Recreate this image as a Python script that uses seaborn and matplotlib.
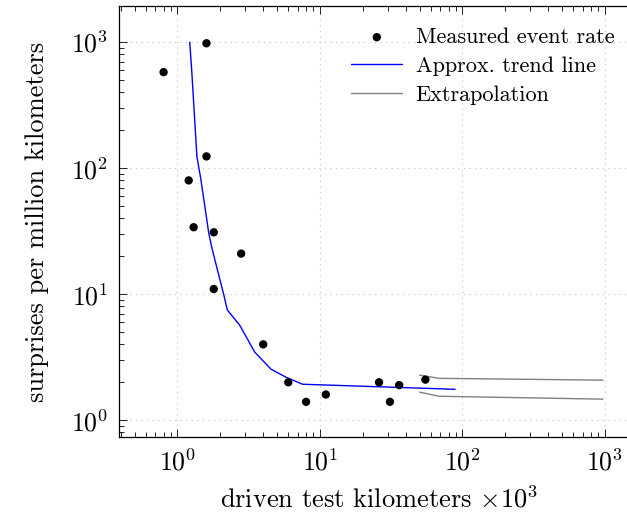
import numpy as np
import matplotlib
matplotlib.use("Agg")
import matplotlib.pyplot as plt
import seaborn as sns
import pandas as pd
from matplotlib.ticker import LogLocator, NullFormatter

sns.set_style("ticks")
plt.rcParams["font.family"] = "serif"
plt.rcParams["font.serif"] = ["cmr10", "DejaVu Serif"]
plt.rcParams["mathtext.fontset"] = "cm"
plt.rcParams["axes.formatter.use_mathtext"] = True
plt.rcParams["axes.edgecolor"] = "black"
plt.rcParams["xtick.color"] = "black"
plt.rcParams["ytick.color"] = "black"
plt.rcParams["text.color"] = "black"
plt.rcParams["axes.labelcolor"] = "black"

# measured points (x in 10^3 km, y in surprises per million km)
meas_x = [0.8, 1.6, 1.6, 1.2, 1.3, 1.8, 1.8, 2.8, 4.0, 6.0, 8.0, 11, 26, 31, 36, 55]
meas_y = [578, 980, 124, 80, 34, 31, 11, 21, 4.0, 2.0, 1.4, 1.6, 2.0, 1.4, 1.9, 2.1]

# approximate trend line
trend_x = [1.22, 1.26, 1.37, 1.46, 1.66, 1.75, 2.12, 2.24, 2.73, 3.49, 4.54, 5.8, 7.56, 89]
trend_y = [1000, 600, 124, 82, 30.5, 23, 9.8, 7.5, 5.7, 3.47, 2.54, 2.19, 1.93, 1.76]

# extrapolation bounds
extra_x = [50, 68.5, 970]
extra_hi = [2.28, 2.15, 2.08]
extra_lo = [1.67, 1.55, 1.47]

meas = pd.DataFrame({"x": meas_x, "y": meas_y})
trend = pd.DataFrame({"x": trend_x, "y": trend_y})

fig = plt.figure(figsize=(6.27, 5.15), dpi=100)
ax = fig.add_axes([0.19, 0.151, 0.83, 0.837])

sns.scatterplot(data=meas, x="x", y="y", ax=ax, color="black", s=36,
                edgecolor="none", label="Measured event rate", zorder=3)
sns.lineplot(data=trend, x="x", y="y", ax=ax, color="blue", lw=1.0,
             sort=False, estimator=None, label="Approx. trend line")
ax.plot(extra_x, extra_hi, color="gray", lw=1.0, label="Extrapolation")
ax.plot(extra_x, extra_lo, color="gray", lw=1.0)

ax.set_xscale("log")
ax.set_yscale("log")
ax.set_xlim(0.39, 1750)
ax.set_ylim(0.733, 1930)

ax.xaxis.set_minor_locator(LogLocator(base=10, subs=np.arange(2, 10), numticks=20))
ax.yaxis.set_minor_locator(LogLocator(base=10, subs=np.arange(2, 10), numticks=20))
ax.xaxis.set_minor_formatter(NullFormatter())
ax.yaxis.set_minor_formatter(NullFormatter())
ax.tick_params(which="both", direction="in", top=True, right=False, labelsize=18.5, width=0.6)
ax.tick_params(which="major", length=6, pad=8)
ax.tick_params(which="minor", length=3.5)

ax.grid(True, which="major", ls=(0, (1, 4)), color="#c0c0c0", lw=0.8)
for s in ["left", "bottom", "top"]:
    ax.spines[s].set_linewidth(0.9)
ax.spines["right"].set_visible(False)

ax.set_xlabel(r"driven test kilometers $\times 10^3$", fontsize=19, labelpad=8)
ax.set_ylabel("surprises per million kilometers", fontsize=19, labelpad=16)

leg = ax.legend(loc="upper right", frameon=False, fontsize=16,
                bbox_to_anchor=(0.99, 0.997), handlelength=2.3, handletextpad=0.6,
                labelspacing=0.42)

fig.savefig("out.png", dpi=100)
